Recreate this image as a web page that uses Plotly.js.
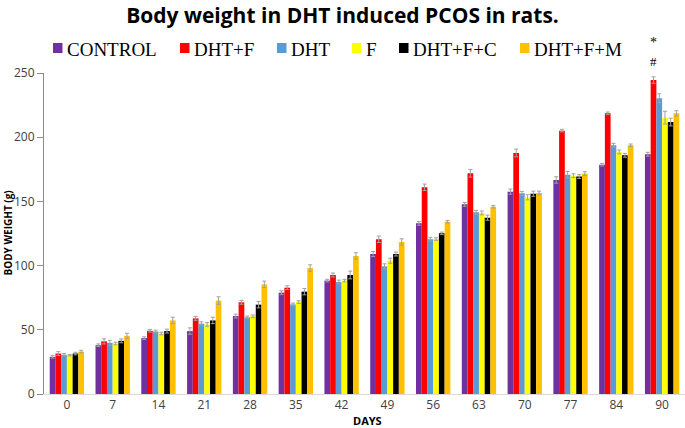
<!DOCTYPE html>
<html>
<head>
<meta charset="utf-8">
<script src="https://cdn.plot.ly/plotly-3.0.1.min.js"></script>
<style>
  html, body { margin: 0; padding: 0; background: #fff; }
  #graph { width: 685px; height: 428px; }
</style>
</head>
<body>
<div id="graph"></div>
<script>
// days on the x axis
const days = ['0', '7', '14', '21', '28', '35', '42', '49', '56', '63', '70', '77', '84', '90']

// mean body weight (g)
const control = [28.9, 38, 43.5, 49, 60.7, 78.9, 88.3, 109, 132.9, 147.7, 157.6, 166.7, 178.6, 186.7]
const dhtF = [31.5, 41, 49.2, 58.9, 71.4, 82.8, 92.7, 120.5, 161, 171.9, 187.7, 205.1, 218.6, 244.5]
const dht = [30.5, 39.8, 48.7, 54.7, 59.7, 69.8, 87.2, 99.4, 120.5, 141.5, 156.3, 170.8, 193.7, 230.3]
const fOnly = [30.2, 39.3, 47.1, 54.2, 60.5, 71.6, 88.3, 103.8, 120.7, 141, 153.2, 170, 188.5, 215.2]
const dhtFC = [31.5, 41.4, 49, 57.3, 69.6, 79.7, 92.7, 109, 125.1, 137.3, 156, 169.3, 185.9, 211.8]
const dhtFM = [33, 45.3, 57.3, 72.7, 85.4, 98.1, 107.5, 118.4, 134.2, 145.9, 156.5, 171.6, 193.7, 218.6]

// error bars (SEM)
const controlErr = [1, 1, 1, 2.5, 1.5, 1.5, 1, 2, 1.5, 1.5, 2, 2.5, 1, 1.5]
const dhtFErr = [1.5, 2, 1, 1.5, 1.5, 1.5, 1.5, 2.5, 2.5, 3, 3, 1, 1, 2.5]
const dhtErr = [1, 2, 1, 1.5, 1, 1, 1.5, 2, 1.5, 1.5, 1.5, 2.5, 1.5, 3.5]
const fOnlyErr = [0.5, 1, 1, 1.5, 1, 1, 1, 2, 1, 1.5, 2, 1.5, 1.5, 5]
const dhtFCErr = [1, 1.5, 1.5, 2.5, 2.5, 2.5, 3, 1.5, 1, 2, 2, 1.5, 1.5, 3]
const dhtFMErr = [1, 2, 2.5, 3, 2.5, 2.5, 2.5, 2.5, 1, 1, 1.5, 1.5, 1, 2]

const groups = [
    {name: 'CONTROL', y: control, err: controlErr, color: '#7030A0'},
    {name: 'DHT+F', y: dhtF, err: dhtFErr, color: '#FF0000'},
    {name: 'DHT', y: dht, err: dhtErr, color: '#5B9BD5'},
    {name: 'F', y: fOnly, err: fOnlyErr, color: '#FFFF00'},
    {name: 'DHT+F+C', y: dhtFC, err: dhtFCErr, color: '#000000'},
    {name: 'DHT+F+M', y: dhtFM, err: dhtFMErr, color: '#FFC000'}
]

// legend entry positions in px (left edge of the swatch), legend drawn by hand
// because the built-in one spaces its items far wider than the original
const legendX = [53, 180, 277, 352, 399, 520]
const legendY = 48

const plotL = 44, plotT = 73, plotW = 641, plotH = 321
const px2x = p => (p - plotL) / plotW
const px2y = p => (plotT + plotH - p) / plotH

let data = groups.map(g => ({
    type: 'bar',
    name: g.name,
    x: days,
    y: g.y,
    showlegend: false,
    marker: {color: g.color},
    error_y: {type: 'data', array: g.err, visible: true, color: '#a0a0a0', thickness: 1, width: 2}
}))

const sans = '"Open Sans", "Liberation Sans", sans-serif'
const serif = '"Liberation Serif", "Times New Roman", serif'

let shapes = groups.map((g, i) => ({
    type: 'rect', xref: 'paper', yref: 'paper',
    x0: px2x(legendX[i]), x1: px2x(legendX[i] + 9.5),
    y0: px2y(legendY + 5), y1: px2y(legendY - 5),
    fillcolor: g.color, line: {width: 0}
}))

let annotations = groups.map((g, i) => ({
    text: g.name, xref: 'paper', yref: 'paper',
    x: px2x(legendX[i] + 12), y: px2y(legendY + 1),
    xanchor: 'left', yanchor: 'middle', showarrow: false,
    font: {family: serif, size: 19, color: '#000'}
}))

annotations.push(
    {
        text: '<b>DAYS</b>', xref: 'paper', yref: 'paper', x: 0.505, y: px2y(421),
        xanchor: 'center', yanchor: 'middle',
        showarrow: false, font: {family: sans, size: 11, color: '#000'}
    },
    {
        text: '<b>BODY WEIGHT (g)</b>', xref: 'paper', yref: 'paper', x: px2x(7), y: 0.5,
        xanchor: 'center', yanchor: 'middle',
        textangle: -90, showarrow: false, font: {family: sans, size: 10, color: '#000'}
    },
    {
        text: '*', xref: 'x', yref: 'paper', x: 13, xshift: -8.5, y: px2y(42),
        xanchor: 'center', yanchor: 'middle',
        showarrow: false, font: {family: serif, size: 14, color: '#000'}
    },
    {
        text: '#', xref: 'x', yref: 'paper', x: 13, xshift: -8.5, y: px2y(61),
        xanchor: 'center', yanchor: 'middle',
        showarrow: false, font: {family: serif, size: 13, color: '#000'}
    }
)

let layout = {
    width: 685,
    height: 428,
    margin: {l: plotL, r: 685 - plotL - plotW, t: plotT, b: 428 - plotT - plotH},
    paper_bgcolor: '#fff',
    plot_bgcolor: '#fff',
    barmode: 'group',
    bargap: 0.25,
    bargroupgap: 0,
    title: {
        text: '<b>Body weight in DHT induced PCOS in rats.</b>',
        font: {family: sans, size: 21, color: '#000'},
        x: 0.5,
        xanchor: 'center',
        y: 0.964,
        yanchor: 'middle'
    },
    showlegend: false,
    xaxis: {
        type: 'category',
        range: [-0.5, 13.5],
        showline: true,
        linecolor: '#d9d9d9',
        linewidth: 1,
        ticks: '',
        showgrid: false,
        tickfont: {family: sans, size: 12, color: '#404040'}
    },
    yaxis: {
        range: [0, 250],
        dtick: 50,
        showline: true,
        linecolor: '#8c8c8c',
        linewidth: 1,
        ticks: 'outside',
        ticklen: 6,
        tickcolor: '#8c8c8c',
        showgrid: false,
        zeroline: false,
        tickfont: {family: sans, size: 12, color: '#404040'}
    },
    shapes: shapes,
    annotations: annotations
}

Plotly.newPlot('graph', data, layout, {displayModeBar: false, staticPlot: true})
</script>
</body>
</html>
